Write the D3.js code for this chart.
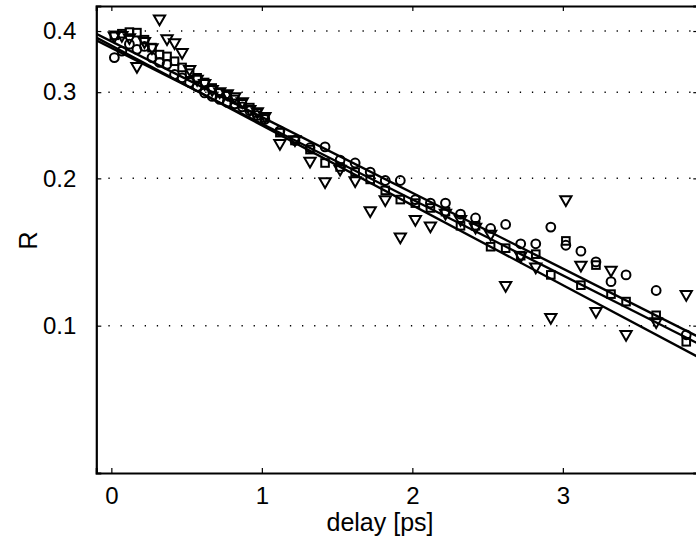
<!DOCTYPE html>
<html>
<head>
<meta charset="utf-8">
<script src="https://cdn.jsdelivr.net/npm/d3@7"></script>
<style>
  body { margin: 0; background: #fff; }
  svg { display: block; overflow: hidden; }
  text { font-family: "Liberation Sans", Arial, sans-serif; fill: #000; }
</style>
</head>
<body>
<div id="chart"></div>
<script>
// delay values shared by the three data sets (ps)
var delays = [0.02, 0.07, 0.12, 0.17, 0.22, 0.27, 0.32, 0.37, 0.42, 0.47,
  0.52, 0.57, 0.62, 0.67, 0.72, 0.77, 0.82, 0.87, 0.92, 0.97,
  1.02, 1.12, 1.22, 1.32, 1.42, 1.52, 1.62, 1.72, 1.82, 1.92,
  2.02, 2.12, 2.22, 2.32, 2.42, 2.52, 2.62, 2.72, 2.82, 2.92,
  3.02, 3.12, 3.22, 3.32, 3.42, 3.62, 3.82];

// R values, one array per marker type
var circleR = [0.353, 0.364, 0.376, 0.367, 0.372, 0.353, 0.345, 0.342, 0.326, 0.321,
  0.314, 0.308, 0.299, 0.294, 0.290, 0.286, 0.284, 0.280, 0.275, 0.269,
  0.264, 0.250, 0.239, 0.231, 0.232, 0.218, 0.215, 0.206, 0.198, 0.198,
  0.181, 0.178, 0.178, 0.169, 0.166, 0.158, 0.161, 0.147, 0.147, 0.159,
  0.146, 0.142, 0.135, 0.123, 0.127, 0.118, 0.0958];

var squareR = [0.392, 0.395, 0.398, 0.397, 0.384, 0.370, 0.358, 0.355, 0.347, 0.337,
  0.328, 0.321, 0.314, 0.306, 0.299, 0.295, 0.290, 0.284, 0.279, 0.272,
  0.266, 0.248, 0.239, 0.229, 0.215, 0.211, 0.206, 0.199, 0.189, 0.181,
  0.178, 0.174, 0.171, 0.160, 0.160, 0.145, 0.144, 0.139, 0.140, 0.127,
  0.149, 0.121, 0.133, 0.116, 0.112, 0.105, 0.0927];

var triangleR = [0.391, 0.392, 0.388, 0.339, 0.381, 0.370, 0.424, 0.386, 0.379, 0.362,
  0.334, 0.319, 0.313, 0.304, 0.301, 0.298, 0.294, 0.287, 0.277, 0.274,
  0.268, 0.236, 0.240, 0.217, 0.197, 0.209, 0.198, 0.172, 0.181, 0.152,
  0.165, 0.160, 0.170, 0.165, 0.159, 0.154, 0.121, 0.139, 0.132, 0.104,
  0.181, 0.133, 0.107, 0.130, 0.096, 0.102, 0.116];

// exponential fits: R at both ends of the delay axis
var fitDelays = [-0.1, 3.9];
var fitA = [0.395, 0.0949];
var fitB = [0.383, 0.0919];
var fitC = [0.388, 0.0863];

var xTicks = [0, 1, 2, 3];
var yTicks = [0.1, 0.2, 0.3, 0.4];

var svgWidth = 696;
var svgHeight = 552;

var margin = { top: 6, right: -2.3, bottom: 79, left: 96.3 };
var width = svgWidth - margin.left - margin.right;
var height = svgHeight - margin.top - margin.bottom;

var svg = d3.select("#chart")
  .append("svg")
  .attr("width", svgWidth)
  .attr("height", svgHeight);

var chartGroup = svg.append("g")
  .attr("transform", `translate(${margin.left}, ${margin.top})`);

var xScale = d3.scaleLinear().domain([-0.1, 3.9]).range([0, width]);
var yScale = d3.scaleLog().domain([0.05, 0.45]).range([height, 0]);

// clip marks to the axes box
chartGroup.append("clipPath").attr("id", "plotClip")
  .append("rect").attr("width", width).attr("height", height);

// dotted horizontal grid
chartGroup.append("g")
  .selectAll("line")
  .data(yTicks)
  .enter()
  .append("line")
  .attr("x1", 0)
  .attr("x2", width)
  .attr("y1", d => yScale(d))
  .attr("y2", d => yScale(d))
  .attr("stroke", "#000")
  .attr("stroke-width", 1.5)
  .attr("stroke-dasharray", "1.3,10.8");

var plot = chartGroup.append("g").attr("clip-path", "url(#plotClip)");

function pts(vals) {
  return vals.map((v, i) => ({ x: delays[i], y: v }));
}

// circles
plot.append("g")
  .selectAll("circle")
  .data(pts(circleR))
  .enter()
  .append("circle")
  .attr("cx", d => xScale(d.x))
  .attr("cy", d => yScale(d.y))
  .attr("r", 4.4)
  .attr("fill", "none")
  .attr("stroke", "#000")
  .attr("stroke-width", 2);

// squares
plot.append("g")
  .selectAll("rect")
  .data(pts(squareR))
  .enter()
  .append("rect")
  .attr("x", d => xScale(d.x) - 3.8)
  .attr("y", d => yScale(d.y) - 3.8)
  .attr("width", 7.6)
  .attr("height", 7.6)
  .attr("fill", "none")
  .attr("stroke", "#000")
  .attr("stroke-width", 2);

// downward triangles
var tri = d3.symbol().type(d3.symbolTriangle).size(55);
plot.append("g")
  .selectAll("path")
  .data(pts(triangleR))
  .enter()
  .append("path")
  .attr("d", tri)
  .attr("transform", d => `translate(${xScale(d.x)}, ${yScale(d.y)}) rotate(180)`)
  .attr("fill", "none")
  .attr("stroke", "#000")
  .attr("stroke-width", 2)
  .attr("stroke-linejoin", "miter");

// fit lines
var line = d3.line()
  .x(d => xScale(d[0]))
  .y(d => yScale(d[1]));

[fitA, fitB, fitC].forEach(function(f) {
  plot.append("path")
    .datum(fitDelays.map((x, i) => [x, f[i]]))
    .attr("d", line)
    .attr("fill", "none")
    .attr("stroke", "#000")
    .attr("stroke-width", 2.4);
});

// axes, ticks pointing inward on all four sides
var xAxis = d3.axisBottom(xScale).tickValues(xTicks).tickSize(-5).tickPadding(14)
  .tickFormat(d3.format("d"));
var yAxis = d3.axisLeft(yScale).tickValues(yTicks).tickSize(-5).tickPadding(20)
  .tickFormat(d3.format(".1f"));

chartGroup.append("g").attr("transform", `translate(0, ${height})`).call(xAxis);
chartGroup.append("g").call(yAxis);
chartGroup.append("g")
  .call(d3.axisTop(xScale).tickValues(xTicks).tickSize(-5).tickFormat(""));
chartGroup.append("g").attr("transform", `translate(${width}, 0)`)
  .call(d3.axisRight(yScale).tickValues(yTicks).tickSize(-5).tickFormat(""));

chartGroup.selectAll(".domain").attr("stroke", "#000").attr("stroke-width", 2.2);
chartGroup.selectAll(".tick line").attr("stroke", "#000").attr("stroke-width", 1.2);
chartGroup.selectAll(".tick text").attr("font-size", "24px")
  .attr("font-family", "Liberation Sans, Arial, sans-serif");

// axis titles
chartGroup.append("text")
  .attr("x", 380 - margin.left)
  .attr("y", height + 58)
  .attr("text-anchor", "middle")
  .attr("font-size", "25px")
  .text("delay [ps]");

chartGroup.append("text")
  .attr("transform", `translate(${-59}, ${height / 2 + 1}) rotate(-90)`)
  .attr("text-anchor", "middle")
  .attr("font-size", "25px")
  .text("R");
</script>
</body>
</html>
